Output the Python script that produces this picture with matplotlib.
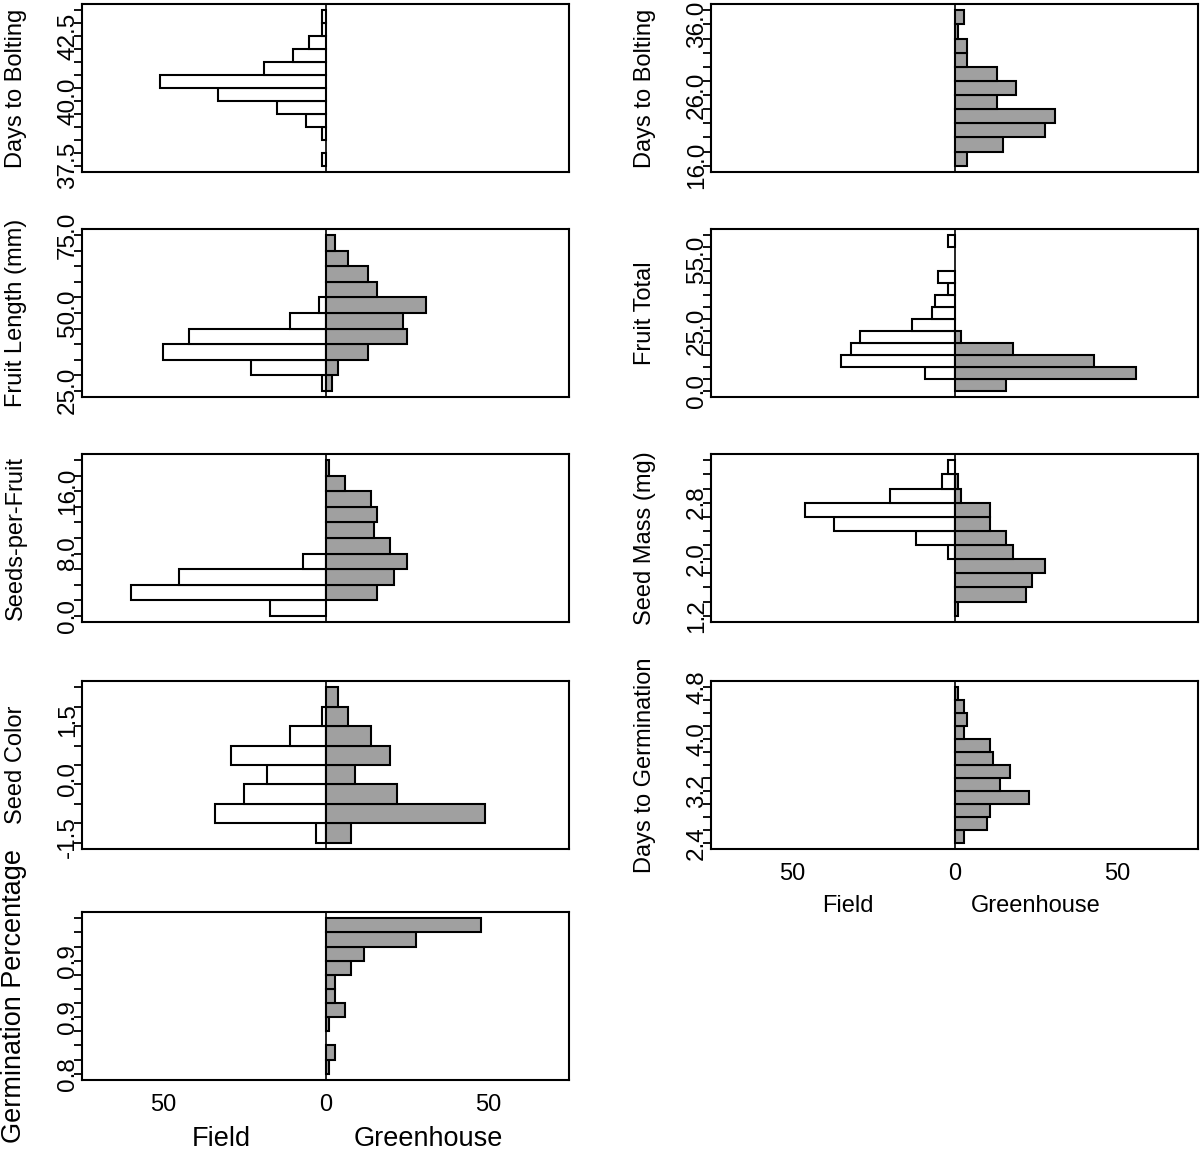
import numpy as np
import matplotlib
matplotlib.use("Agg")
from matplotlib import pyplot as plt

plt.rcParams['font.family'] = ['Liberation Sans', 'DejaVu Sans']

# bin counts, listed from the lowest bin up to the highest one
# left column
bolt_field_l = [1, 0, 1, 6, 15, 33, 51, 19, 10, 5, 1, 1]
bolt_gh_l = [0, 0, 0, 0, 0, 0, 0, 0, 0, 0, 0, 0]
flen_field = [1, 23, 50, 42, 11, 2, 0, 0, 0, 0]
flen_gh = [2, 4, 13, 25, 24, 31, 16, 13, 7, 3]
spf_field = [17, 60, 45, 7, 0, 0, 0, 0, 0, 0]
spf_gh = [0, 16, 21, 25, 20, 15, 16, 14, 6, 1]
scol_field = [3, 34, 25, 18, 29, 11, 1, 0]
scol_gh = [8, 49, 22, 9, 20, 14, 7, 4]
gperc_field = [0, 0, 0, 0, 0, 0, 0, 0, 0, 0, 0]
gperc_gh = [1, 3, 0, 1, 6, 3, 3, 8, 12, 28, 48]
# right column
bolt_field_r = [0, 0, 0, 0, 0, 0, 0, 0, 0, 0, 0]
bolt_gh_r = [4, 15, 28, 31, 13, 19, 13, 4, 4, 1, 3]
ftot_field = [0, 9, 35, 32, 29, 13, 7, 6, 2, 5, 0, 0, 2]
ftot_gh = [16, 56, 43, 18, 2, 0, 0, 0, 0, 0, 0, 0, 0]
smass_field = [0, 0, 0, 0, 2, 12, 37, 46, 20, 4, 2]
smass_gh = [1, 22, 24, 28, 18, 16, 11, 11, 2, 1, 0]
dgerm_field = [0, 0, 0, 0, 0, 0, 0, 0, 0, 0, 0, 0]
dgerm_gh = [3, 10, 11, 23, 14, 17, 12, 11, 3, 4, 3, 1]

# y tick labels (position counted in bins from the bottom edge)
bolt_l_pos, bolt_l_txt = [0, 5, 10], ["37.5", "40.0", "42.5"]
flen_pos, flen_txt = [0, 5, 10], ["25.0", "50.0", "75.0"]
spf_pos, spf_txt = [0, 4, 8], ["0.0", "8.0", "16.0"]
scol_pos, scol_txt = [0.3, 3.3, 6.3], ["-1.5", "0.0", "1.5"]
gperc_pos, gperc_txt = [0, 4, 8], ["0.8", "0.9", "0.9"]
bolt_r_pos, bolt_r_txt = [0, 5, 10], ["16.0", "26.0", "36.0"]
ftot_pos, ftot_txt = [0, 5, 11], ["0.0", "25.0", "55.0"]
smass_pos, smass_txt = [0, 4, 8], ["1.2", "2.0", "2.8"]
dgerm_pos, dgerm_txt = [0, 4, 8, 12], ["2.4", "3.2", "4.0", "4.8"]

x_ticks = [-50, 0, 50]
x_tick_txt = ["50", "0", "50"]

FS = 17
W, H = 1200, 1155


def draw_panel(ax, field, gh, lab_pos, lab_txt, ylab, bottom=False, lab_fs=FS):
    field = np.asarray(field)
    gh = np.asarray(gh)
    n = len(gh)
    y = np.arange(n) + 0.5
    f = field > 0
    g = gh > 0
    ax.barh(y[f], -field[f], height=1.0, color='white', edgecolor='black',
            linewidth=1.5, zorder=2)
    ax.barh(y[g], gh[g], height=1.0, color='#a0a0a0', edgecolor='black',
            linewidth=1.5, zorder=2)
    ax.axvline(0, color='black', lw=1.2, zorder=3)
    ax.set_xlim(-75, 75)
    ax.set_ylim(-0.04 * n, n * 1.04)
    ax.set_yticks(np.arange(n + 1), minor=True)
    ax.set_yticks(lab_pos, lab_txt, rotation=90, va='center')
    ax.yaxis.remove_overlapping_locs = False
    ax.tick_params(axis='y', which='minor', length=6, width=1.3)
    ax.tick_params(axis='y', which='major', length=0, pad=2, labelsize=17.5)
    ax.set_ylabel(ylab, fontsize=lab_fs)
    ax.yaxis.set_label_coords(-0.113, 0.5)
    for s in ax.spines.values():
        s.set_linewidth(1.5)
    if bottom:
        ax.set_xticks(x_ticks, x_tick_txt)
        ax.tick_params(axis='x', length=0, pad=10, labelsize=FS)
    else:
        ax.set_xticks([])


def add_ax(fig, x0, top, bot, w):
    return fig.add_axes([x0 / W, 1 - bot / H, w / W, (bot - top) / H])


fig = plt.figure(figsize=(W / 100, H / 100), dpi=100)

rows = [(4, 172), (229, 397), (454, 622), (681, 849), (912, 1080)]
lx, rx, aw = 82, 711, 487

ax = add_ax(fig, lx, *rows[0], aw)
draw_panel(ax, bolt_field_l, bolt_gh_l, bolt_l_pos, bolt_l_txt, "Days to Bolting")
ax = add_ax(fig, lx, *rows[1], aw)
draw_panel(ax, flen_field, flen_gh, flen_pos, flen_txt, "Fruit Length (mm)")
ax = add_ax(fig, lx, *rows[2], aw)
draw_panel(ax, spf_field, spf_gh, spf_pos, spf_txt, "Seeds-per-Fruit")
ax = add_ax(fig, lx, *rows[3], aw)
draw_panel(ax, scol_field, scol_gh, scol_pos, scol_txt, "Seed Color")
ax = add_ax(fig, lx, *rows[4], aw)
draw_panel(ax, gperc_field, gperc_gh, gperc_pos, gperc_txt,
           "Germination Percentage", bottom=True, lab_fs=19.5)
ax.text(0.287, -0.35, "Field", transform=ax.transAxes, ha='center',
        va='center', fontsize=19.5)
ax.text(0.711, -0.35, "Greenhouse", transform=ax.transAxes, ha='center',
        va='center', fontsize=19.5)

ax = add_ax(fig, rx, *rows[0], aw)
draw_panel(ax, bolt_field_r, bolt_gh_r, bolt_r_pos, bolt_r_txt, "Days to Bolting")
ax = add_ax(fig, rx, *rows[1], aw)
draw_panel(ax, ftot_field, ftot_gh, ftot_pos, ftot_txt, "Fruit Total")
ax = add_ax(fig, rx, *rows[2], aw)
draw_panel(ax, smass_field, smass_gh, smass_pos, smass_txt, "Seed Mass (mg)")
ax = add_ax(fig, rx, *rows[3], aw)
draw_panel(ax, dgerm_field, dgerm_gh, dgerm_pos, dgerm_txt,
           "Days to Germination", bottom=True)
ax.text(0.281, -0.34, "Field", transform=ax.transAxes, ha='center',
        va='center', fontsize=FS)
ax.text(0.666, -0.34, "Greenhouse", transform=ax.transAxes, ha='center',
        va='center', fontsize=FS)

fig.savefig("out.png", dpi=100)
